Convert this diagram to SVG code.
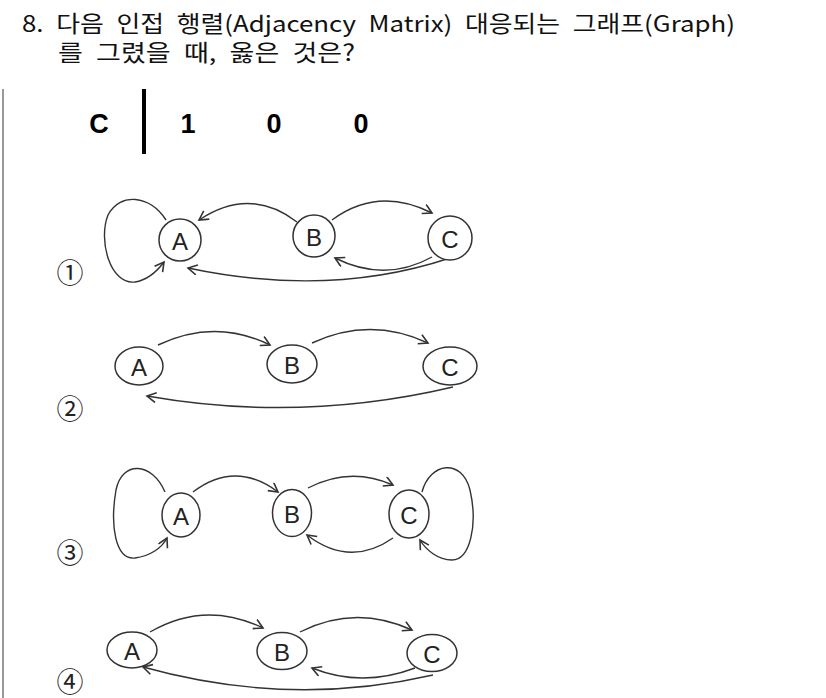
<svg xmlns="http://www.w3.org/2000/svg" width="826" height="698" viewBox="0 0 826 698">
<defs>
<style>
.title{font-family:"Noto Sans CJK KR","Liberation Sans",sans-serif;font-size:22.5px;fill:#111;word-spacing:6px}
.mx{font-family:"Liberation Sans",sans-serif;font-size:27px;font-weight:bold;fill:#000;text-anchor:middle}
.num{font-family:"Noto Sans CJK KR","DejaVu Sans",sans-serif;font-size:27px;fill:#222;text-anchor:middle;dominant-baseline:central}
.node ellipse{fill:#fff;stroke:#333;stroke-width:1.5}
.node text{font-family:"Liberation Sans",sans-serif;font-size:24px;fill:#222;text-anchor:middle;dominant-baseline:central}
.edge{fill:none;stroke:#333;stroke-width:1.4;marker-end:url(#arr)}
</style>
<marker id="arr" markerUnits="userSpaceOnUse" markerWidth="13" markerHeight="13" refX="10" refY="5.5" orient="auto">
<path d="M1,0.5 L10,5.5 L1,10.5" fill="none" stroke="#333" stroke-width="1.6"/>
</marker>
</defs>
<rect width="826" height="698" fill="#fff"/>
<text class="title" x="22" y="31.5" textLength="713" lengthAdjust="spacingAndGlyphs">8. 다음 인접 행렬(Adjacency Matrix) 대응되는 그래프(Graph)</text>
<text class="title" x="58" y="60.5" textLength="297" lengthAdjust="spacingAndGlyphs">를 그렸을 때, 옳은 것은?</text>
<line x1="3" y1="89" x2="3" y2="698" stroke="#777" stroke-width="1.5"/>
<g id="matrix">
<text class="mx" x="99" y="133">C</text>
<rect x="142" y="89" width="4" height="65" fill="#000"/>
<text class="mx" x="188" y="133">1</text>
<text class="mx" x="274" y="133">0</text>
<text class="mx" x="361" y="133">0</text>
</g>
<g id="labels">
<text class="num" x="70" y="271">①</text>
<text class="num" x="70" y="407">②</text>
<text class="num" x="70" y="551">③</text>
<text class="num" x="70" y="680">④</text>
</g>
<g id="connectors">
<path class="edge" d="M166,220 C150,195 120,192 108,215 C98,240 110,285 135,282 C148,280 158,270 164,262"/>
<path class="edge" d="M297,222 Q250,186 199,220"/>
<path class="edge" d="M332,220 Q378,186 432,213"/>
<path class="edge" d="M432,257 Q385,283 335,258"/>
<path class="edge" d="M450,258 Q330,298 188,268"/>
<path class="edge" d="M158,345 Q215,318 270,345"/>
<path class="edge" d="M312,343 Q370,316 428,343"/>
<path class="edge" d="M453,387 Q300,423 147,396"/>
<path class="edge" d="M165,492 C152,462 122,460 116,490 C110,525 115,560 135,558 C150,556 162,548 167,538"/>
<path class="edge" d="M193,492 Q235,460 278,492"/>
<path class="edge" d="M308,488 Q350,466 393,485"/>
<path class="edge" d="M393,538 Q350,568 307,535"/>
<path class="edge" d="M422,492 C430,462 462,458 470,490 C478,525 470,560 452,560 C438,560 426,550 420,540"/>
<path class="edge" d="M150,632 Q205,600 263,628"/>
<path class="edge" d="M300,632 Q355,604 412,630"/>
<path class="edge" d="M415,668 Q362,688 312,668"/>
<path class="edge" d="M433,675 Q290,708 143,667"/>
</g>
<g id="g1-A" class="node"><ellipse cx="180" cy="240" rx="21" ry="21"/><text x="180" y="241">A</text></g>
<g id="g1-B" class="node"><ellipse cx="314" cy="236" rx="21" ry="21"/><text x="314" y="237">B</text></g>
<g id="g1-C" class="node"><ellipse cx="450" cy="238" rx="22" ry="22"/><text x="450" y="239">C</text></g>
<g id="g2-A" class="node"><ellipse cx="139" cy="366" rx="24" ry="19"/><text x="139" y="367">A</text></g>
<g id="g2-B" class="node"><ellipse cx="292" cy="364" rx="25" ry="19"/><text x="292" y="365">B</text></g>
<g id="g2-C" class="node"><ellipse cx="450" cy="366" rx="27" ry="19"/><text x="450" y="367">C</text></g>
<g id="g3-A" class="node"><ellipse cx="181" cy="515" rx="19" ry="22"/><text x="181" y="516">A</text></g>
<g id="g3-B" class="node"><ellipse cx="292" cy="513" rx="19.5" ry="23.5"/><text x="292" y="514">B</text></g>
<g id="g3-C" class="node"><ellipse cx="409" cy="514" rx="20" ry="24"/><text x="409" y="515">C</text></g>
<g id="g4-A" class="node"><ellipse cx="132" cy="650" rx="25" ry="18"/><text x="132" y="651">A</text></g>
<g id="g4-B" class="node"><ellipse cx="282" cy="651" rx="25" ry="18.5"/><text x="282" y="652">B</text></g>
<g id="g4-C" class="node"><ellipse cx="432" cy="653" rx="25" ry="18.5"/><text x="432" y="654">C</text></g>
</svg>
